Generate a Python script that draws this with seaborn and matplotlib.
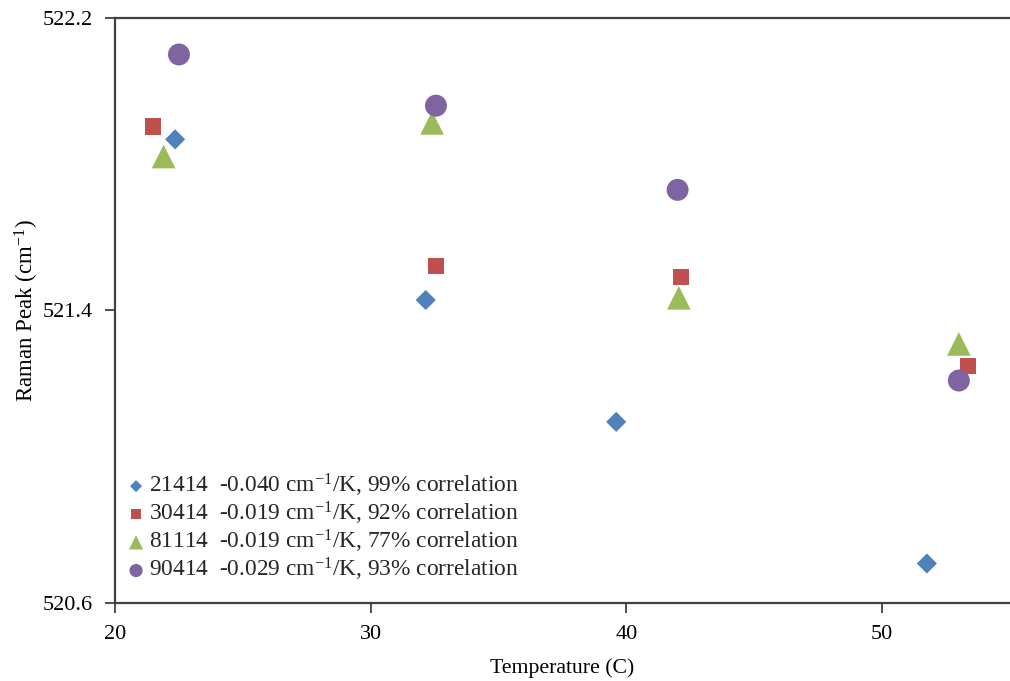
import matplotlib
matplotlib.use("Agg")
import matplotlib.pyplot as plt
import seaborn as sns
import pandas as pd

# ---- data ----
series_names = ["21414", "30414", "81114", "90414"]
series_labels = [
    "21414  -0.040 cm$^{-1}$/K, 99% correlation",
    "30414  -0.019 cm$^{-1}$/K, 92% correlation",
    "81114  -0.019 cm$^{-1}$/K, 77% correlation",
    "90414  -0.029 cm$^{-1}$/K, 93% correlation",
]
temp_21414 = [22.35, 32.15, 39.6, 51.75]
peak_21414 = [521.867, 521.428, 521.095, 520.708]
temp_30414 = [21.5, 32.55, 42.13, 53.35]
peak_30414 = [521.902, 521.522, 521.492, 521.248]
temp_81114 = [21.9, 32.4, 42.05, 53.0]
peak_81114 = [521.820, 521.912, 521.434, 521.308]
temp_90414 = [22.5, 32.55, 42.0, 53.0]
peak_90414 = [522.099, 521.959, 521.729, 521.208]

x_ticks = [20, 30, 40, 50]
y_ticks = [520.6, 521.4, 522.2]

temps = [temp_21414, temp_30414, temp_81114, temp_90414]
peaks = [peak_21414, peak_30414, peak_81114, peak_90414]

# ---- styling ----
colors = ["#4F81BD", "#C0504D", "#9BBB59", "#8064A2"]
markers = ["D", "s", "^", "o"]
sizes = [105, 135, 290, 250]

sns.set_theme(style="white")
plt.rcParams["font.family"] = ["Liberation Serif", "DejaVu Serif"]
plt.rcParams["mathtext.fontset"] = "custom"
plt.rcParams["mathtext.rm"] = "Liberation Serif"
plt.rcParams["mathtext.it"] = "Liberation Serif:italic"

fig = plt.figure(figsize=(10.10, 6.81), dpi=100)
ax = fig.add_axes([0.1139, 0.1145, 0.8861, 0.8598])

frames = []
for name, lab, t, p in zip(series_names, series_labels, temps, peaks):
    frames.append(pd.DataFrame({"Temperature": t, "Peak": p, "series": name, "label": lab}))
df = pd.concat(frames, ignore_index=True)

for name, lab, c, m, s in zip(series_names, series_labels, colors, markers, sizes):
    sub = df[df["series"] == name]
    sns.scatterplot(data=sub, x="Temperature", y="Peak", marker=m, s=s,
                    color=c, edgecolor="none", linewidth=0, label=lab, ax=ax,
                    zorder=3)

ax.set_xlim(20, 55)
ax.set_ylim(520.6, 522.2)
ax.set_xticks(x_ticks)
ax.set_yticks(y_ticks)
ax.set_xticklabels([str(v) for v in x_ticks])
ax.set_yticklabels([f"{v:.1f}" for v in y_ticks])

spine_color = "#404040"
for side in ["left", "bottom", "top"]:
    ax.spines[side].set_visible(True)
    ax.spines[side].set_color(spine_color)
    ax.spines[side].set_linewidth(1.6)
ax.spines["right"].set_visible(False)

ax.tick_params(axis="both", which="major", direction="out", length=7,
               width=1.3, color=spine_color, labelsize=16, labelcolor="black",
               left=True, bottom=True)
ax.tick_params(axis="y", pad=9)
ax.tick_params(axis="x", pad=9)

ax.set_xlabel("Temperature (C)", fontsize=15.7, color="black", labelpad=10)
ax.set_ylabel("Raman Peak (cm$^{-1}$)", fontsize=16.5, color="black", labelpad=1)

leg = ax.legend(loc="lower left", bbox_to_anchor=(0.0, 0.018), frameon=False,
                fontsize=16.8, handletextpad=0.05, labelspacing=0.04,
                borderaxespad=0.0, borderpad=0.4, handlelength=1.0,
                markerscale=0.6)

fig.savefig("out.png", dpi=100)
